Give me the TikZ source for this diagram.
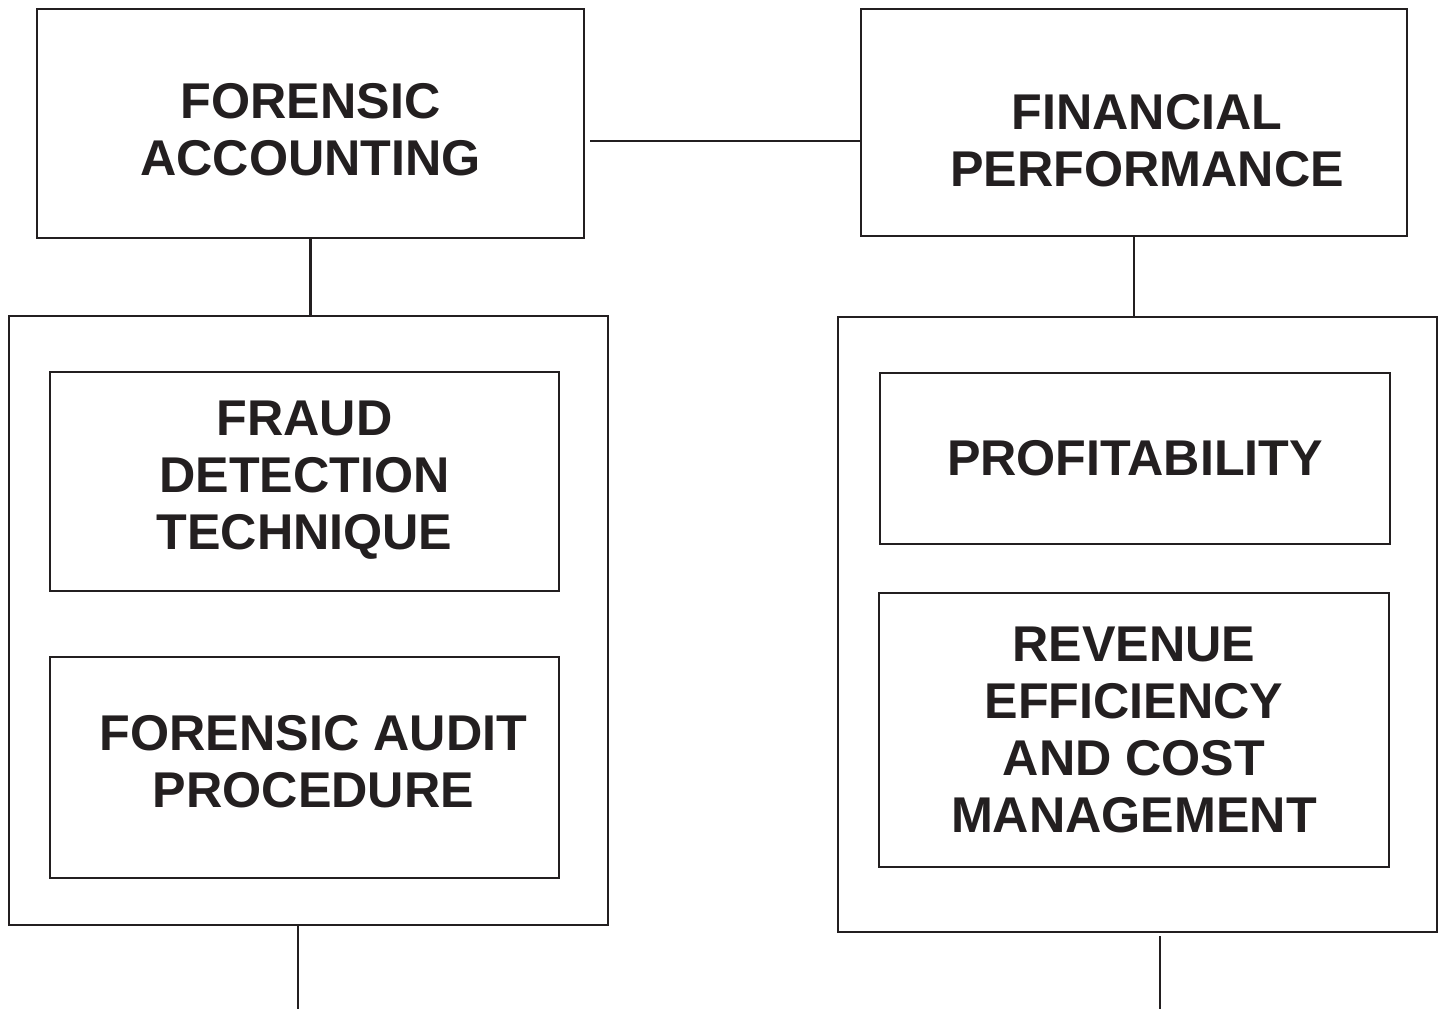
\documentclass[tikz,border=0pt]{standalone}
\usepackage{fontspec}
\setmainfont{Liberation Sans}
\usepackage{tikz}
\usetikzlibrary{calc,positioning}

\definecolor{ink}{HTML}{231F20}

\tikzset{
  box/.style={draw=ink, text=ink, line width=0.6pt, align=center, inner sep=0pt,
    font=\bfseries\fontsize{14.3}{16.2}\selectfont},
  link/.style={draw=ink, line width=0.6pt}
}

\begin{document}
\begin{tikzpicture}
			\useasboundingbox (0,0) rectangle (14.42,10.09);

			% top boxes
			\node[box, minimum width=5.47cm, minimum height=2.29cm] (acc) at (3.105,8.855) {\rule{0pt}{4.8mm}FORENSIC\\ACCOUNTING};
			\node[box, minimum width=5.46cm, minimum height=2.27cm] (perf) at (11.34,8.865) {\hspace{2.6mm}\rule{0pt}{7.1mm}FINANCIAL\\\hspace{2.6mm}PERFORMANCE};

			% outer frames
			\node[box, minimum width=5.99cm, minimum height=6.09cm] (accframe) at (3.085,3.885) {};
			\node[box, minimum width=5.99cm, minimum height=6.15cm] (perfframe) at (11.375,3.845) {};

			% inner boxes
			\node[box, minimum width=5.09cm, minimum height=2.19cm] (fraud) at (3.045,5.275) {FRAUD\\DETECTION\\TECHNIQUE\rule[-1.2mm]{0pt}{0pt}};
			\node[box, minimum width=5.09cm, minimum height=2.21cm] (audit) at (3.045,2.415) {\hspace{1.8mm}FORENSIC AUDIT\\\hspace{1.8mm}PROCEDURE\rule[-1.2mm]{0pt}{0pt}};
			\node[box, minimum width=5.10cm, minimum height=1.71cm] (profit) at (11.35,5.505) {PROFITABILITY};
			\node[box, minimum width=5.10cm, minimum height=2.74cm] (revenue) at (11.34,2.79) {REVENUE\\EFFICIENCY\\AND COST\\MANAGEMENT};

			% connectors
			\draw[link] ([xshift=.5mm,yshift=-1.75mm]acc.east) -- ([yshift=-1.75mm]acc.east -| perf.west);
			\draw[link] (acc.south) -- (acc.south |- accframe.north);
			\draw[link] (perf.south) -- (perf.south |- perfframe.north);

			\coordinate (accend) at (2.98,0);
			\coordinate (perfend) at (11.60,0);
			\draw[link] (accend |- accframe.south) -- (accend);
			\draw[link] ([yshift=-.3mm]perfend |- perfframe.south) -- (perfend);
		\end{tikzpicture}
\end{document}
